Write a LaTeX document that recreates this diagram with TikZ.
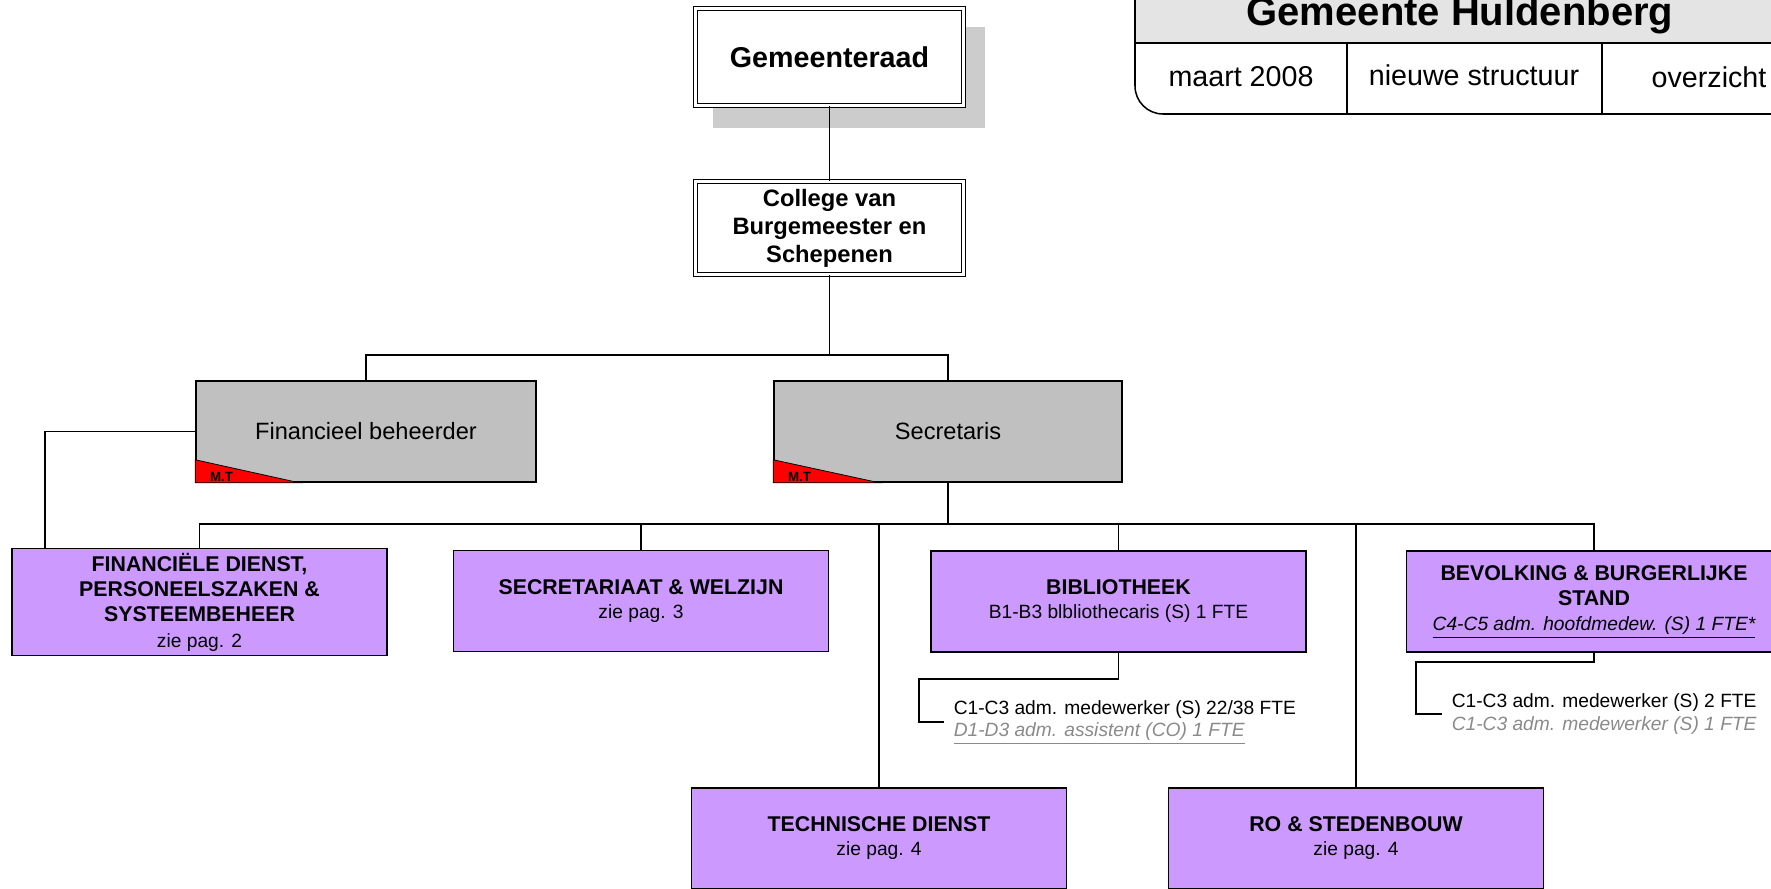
\documentclass[tikz,border=0pt]{standalone}
\usepackage{fontspec}
\setmainfont{Liberation Sans}
\usetikzlibrary{shadows}
\definecolor{paars}{HTML}{CC99FF}
\definecolor{grijs}{HTML}{C0C0C0}
\definecolor{schaduw}{HTML}{CCCCCC}
\definecolor{kop}{HTML}{E4E4E4}
\definecolor{vaag}{HTML}{8A8A8A}
\newcommand{\kopje}[1]{{\fontsize{16}{18}\selectfont\bfseries #1}}
\begin{document}
\begin{tikzpicture}[x=0.75pt, y=-0.75pt, line width=1.15pt,
  bestuur/.style={draw, double, double distance=2.25pt, line width=0.8pt, fill=white,
    minimum width=201pt, align=center, font=\fontsize{17.8}{21}\selectfont\bfseries},
  leiding/.style={draw, fill=grijs, minimum width=255pt, minimum height=75.75pt,
    font=\fontsize{17.7}{21}\selectfont},
  dienst/.style={draw, fill=paars, minimum width=281.25pt, minimum height=75.75pt,
    align=center, font=\fontsize{14.4}{18}\selectfont},
  lijst/.style={anchor=west, inner sep=0pt, align=left, font=\fontsize{14.4}{17}\selectfont},
  mtlabel/.style={anchor=south west, inner sep=0pt, font=\fontsize{10}{12}\selectfont\bfseries},
  cel/.style={font=\fontsize{21.5}{25}\selectfont}]
  \useasboundingbox (0,0) rectangle (1771,889);
  \clip (0,0) rectangle (1771,889);

  \fill[kop] (1135,-10) rectangle (1790,43);
  \draw[rounded corners=21pt] (1135,-10) -- (1135,114) -- (1790,114);
  \draw (1135,43) -- (1790,43);
  \draw (1347,43) -- (1347,114) (1602,43) -- (1602,114);
  \node[font=\fontsize{30}{34}\selectfont\bfseries, anchor=base] (titel) at (1460,25) {Gemeente Huldenberg};
  \node[cel] (datum) at (1241,77) {maart 2008};
  \node[cel] (structuur) at (1474,75) {nieuwe structuur};
  \node[cel] (overzicht) at (1709,77) {overzicht};

  \node[bestuur, minimum height=72.75pt, font=\fontsize{21.5}{25}\selectfont\bfseries,
    drop shadow={shadow xshift=14.6pt, shadow yshift=-15.4pt, fill=schaduw, draw=schaduw,
      line width=3.6pt, opacity=1}]
    (raad) at (829.5,57) {Gemeenteraad};
  \node[bestuur, minimum height=69.75pt] (college) at (829.5,228) {College van\\ Burgemeester en\\ Schepenen};

  \node[leiding] (fb) at (366,431.5) {Financieel beheerder};
  \node[leiding, minimum width=261pt] (secr) at (948,431.5) {Secretaris};
  \filldraw[fill=red, line width=0.6pt] (fb.south west) -- ++(0,-23) -- ++(104,23) -- cycle;
  \filldraw[fill=red, line width=0.6pt] (secr.south west) -- ++(0,-23) -- ++(106,23) -- cycle;
  \node[mtlabel] (fbmt) at ([xshift=10.5pt, yshift=0.6pt]fb.south west) {M.T};
  \node[mtlabel] (secrmt) at ([xshift=10.5pt, yshift=0.6pt]secr.south west) {M.T};

  \node[dienst, minimum height=77.25pt, font=\fontsize{14.4}{19}\selectfont] (finD) at (199.5,602)
    {\kopje{FINANCIËLE DIENST,}\\ \kopje{PERSONEELSZAKEN \&}\\ \kopje{SYSTEEMBEHEER}\\ zie pag. 2};
  \node[dienst] (secW) at (641,601) {\kopje{SECRETARIAAT \& WELZIJN}\\ zie pag. 3};
  \node[dienst] (bib) at (1118.5,601.5) {\kopje{BIBLIOTHEEK}\\ B1-B3 blbliothecaris (S) 1 FTE};
  \node[dienst, font=\fontsize{14.4}{19}\selectfont] (bev) at (1594,601.5)
    {\kopje{BEVOLKING \& BURGERLIJKE}\\ \kopje{STAND}\\ \textit{\underline{C4-C5 adm. hoofdmedew. (S) 1 FTE*}}};
  \node[dienst] (tech) at (879,838.5) {\kopje{TECHNISCHE DIENST}\\ zie pag. 4};
  \node[dienst] (ro) at (1356,838.5) {\kopje{RO \& STEDENBOUW}\\ zie pag. 4};

  \node[lijst] (bibsub) at (953,722)
    {C1-C3 adm. medewerker (S) 22/38 FTE\\ \textcolor{vaag}{\itshape\underline{D1-D3 adm. assistent (CO) 1 FTE}}};
  \node[lijst] (bevsub) at (1451,714)
    {C1-C3 adm. medewerker (S) 2 FTE\\ \textcolor{vaag}{\itshape C1-C3 adm. medewerker (S) 1 FTE}};

  \coordinate (balk1) at (0,355);
  \coordinate (balk2) at (0,524);
  \draw (raad) -- (college);
  \draw (college.south) -- (college.south |- balk1);
  \draw (fb.north) |- (balk1 -| secr.north) -- (secr.north);
  \draw (secr.south) -- (secr.south |- balk2);
  \draw (finD.north) |- (balk2 -| bev.north) -- (bev.north);
  \foreach \d in {secW, tech, bib, ro}
    \draw (\d.north) -- (\d.north |- balk2);
  \draw (fb.west) -| ([xshift=25.5pt]finD.north west);
  \draw (bib.south) |- ++(-199.5,26) |- ([xshift=-6.75pt]bibsub.west);
  \draw (bev.south) |- ++(-178,9) |- ([xshift=-6.75pt]bevsub.west);
\end{tikzpicture}
\end{document}
